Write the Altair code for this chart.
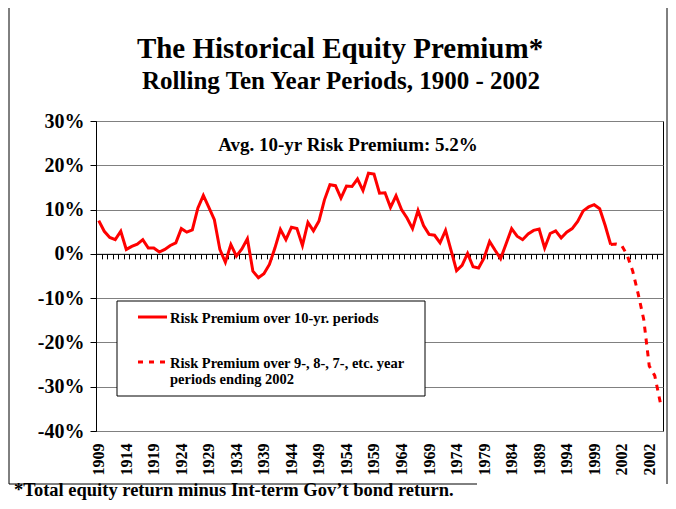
import json
import pandas as pd
import altair as alt

FONT = "Liberation Serif"
RED = "#FF0000"

# ---------------- data ----------------
# 10-year rolling equity risk premium (%), periods ending 1909 ... 2002
years_10yr = list(range(1909, 2003))
premium_10yr = [
    7.5, 5.1, 3.7, 3.2, 5.1, 1.0, 1.7, 2.2, 3.2, 1.3,
    1.3, 0.4, 1.0, 1.9, 2.5, 5.7, 4.9, 5.4, 10.3, 13.2,
    10.5, 7.7, 1.0, -1.9, 2.1, -0.5, 1.1, 3.4, -3.9, -5.4,
    -4.5, -2.4, 1.3, 5.5, 3.2, 6.0, 5.7, 1.9, 7.1, 5.2,
    7.4, 12.2, 15.6, 15.4, 12.6, 15.3, 15.2, 16.9, 14.3, 18.2,
    18.0, 13.7, 13.8, 10.5, 13.1, 10.0, 8.1, 5.7, 9.8, 6.4,
    4.4, 4.2, 2.5, 5.3, 0.8, -3.8, -2.6, 0.1, -2.9, -3.2,
    -0.9, 2.8, 0.8, -1.1, 2.3, 5.7, 4.0, 3.2, 4.5, 5.3,
    5.6, 1.3, 4.6, 5.2, 3.6, 4.9, 5.7, 7.3, 9.7, 10.6,
    11.1, 10.2, 6.4, 2.1,
]
# 9-, 8-, 7-, ... 1-year periods ending 2002 (%)
short_labels = ["2002"] * 9
premium_short = [2.2, 1.9, -0.3, -3.9, -9.1, -14.8, -25.3, -27.5, -33.5]

categories = [str(y) for y in years_10yr] + short_labels
label_every = 5

y_ticks = [-0.4, -0.3, -0.2, -0.1, 0.0, 0.1, 0.2, 0.3]

title_text = "The Historical Equity Premium*"
subtitle_text = "Rolling Ten Year Periods, 1900 - 2002"
note_text = "Avg. 10-yr Risk Premium: 5.2%"
legend_1 = "Risk Premium over 10-yr. periods"
legend_2a = "Risk Premium over 9-, 8-, 7-, etc. year"
legend_2b = "periods ending 2002"
footnote_text = "*Total equity return minus Int-term Gov\u2019t bond return."

# ---------------- tables ----------------
n10 = len(premium_10yr)
df_solid = pd.DataFrame({"idx": list(range(n10)), "v": [p / 100 for p in premium_10yr]})
df_dash = pd.DataFrame({
    "idx": list(range(n10 - 1, n10 + len(premium_short))),
    "v": [premium_10yr[-1] / 100] + [p / 100 for p in premium_short],
})

W, H = 567, 310
ncat = len(categories)
xscale = alt.Scale(domain=[-0.5, ncat - 0.5], nice=False, zero=False)
yscale = alt.Scale(domain=[-0.4, 0.3], nice=False, zero=False)
zero_offset = -(H * 0.4 / 0.7)

label_axis = alt.Axis(
    orient="bottom", values=list(range(0, ncat, label_every)),
    labelExpr=f"{json.dumps(categories)}[datum.value]",
    labelAngle=270, labelFont=FONT, labelFontWeight="bold", labelFontSize=16,
    labelColor="black", labelPadding=12, ticks=False, domain=False, grid=False,
    title=None, labelOverlap=False,
)
tick_axis = alt.Axis(
    orient="bottom", values=[i - 0.5 for i in range(ncat + 1)], labels=False,
    ticks=True, tickSize=5, tickColor="black", tickWidth=1, domain=True,
    domainColor="black", domainWidth=1, grid=False, title=None, offset=zero_offset,
)
y_axis = alt.Axis(
    values=y_ticks,
    labelExpr="datum.value < 0 ? '-' + format(-datum.value, '.0%') : format(datum.value, '.0%')",
    labelFont=FONT, labelFontWeight="bold", labelFontSize=20, labelColor="black",
    labelPadding=6, tickSize=6, tickColor="black", domainColor="black",
    grid=True, gridColor="#808080", gridWidth=1, title=None,
)

solid = alt.Chart(df_solid).mark_line(color=RED, strokeWidth=3).encode(
    x=alt.X("idx:Q", scale=xscale, axis=label_axis),
    y=alt.Y("v:Q", scale=yscale, axis=y_axis),
)
dashed = alt.Chart(df_dash).mark_line(color=RED, strokeWidth=3, strokeDash=[6, 6]).encode(
    x=alt.X("idx:Q", scale=xscale, axis=tick_axis),
    y=alt.Y("v:Q", scale=yscale, axis=y_axis),
)

one = pd.DataFrame({"a": [0]})


def text_layer(s, x, y, size, align="center"):
    return alt.Chart(pd.DataFrame({"t": [s]})).mark_text(
        font=FONT, fontWeight="bold", fontSize=size, align=align,
        baseline="alphabetic", color="black",
    ).encode(text="t:N", x=alt.value(x), y=alt.value(y))


legend_box = alt.Chart(one).mark_rect(fill="white", stroke="black", strokeWidth=1).encode(
    x=alt.value(21), x2=alt.value(329), y=alt.value(180), y2=alt.value(275)
)
leg_solid = alt.Chart(one).mark_rule(color=RED, strokeWidth=3).encode(
    x=alt.value(42), x2=alt.value(71), y=alt.value(196)
)
leg_dash = alt.Chart(one).mark_rule(color=RED, strokeWidth=3, strokeDash=[5, 6]).encode(
    x=alt.value(42), x2=alt.value(72), y=alt.value(241)
)

frame_left = alt.Chart(one).mark_rule(color="black", strokeWidth=1).encode(
    x=alt.value(-87), y=alt.value(-113), y2=alt.value(363)
)
frame_right = alt.Chart(one).mark_rule(color="black", strokeWidth=1).encode(
    x=alt.value(571), y=alt.value(-113), y2=alt.value(363)
)
frame_bottom = alt.Chart(one).mark_rule(color="black", strokeWidth=1).encode(
    x=alt.value(-87), x2=alt.value(381), y=alt.value(363)
)

chart = alt.layer(
    legend_box,
    solid,
    dashed,
    leg_solid,
    leg_dash,
    text_layer(legend_1, 74, 202, 14.5, "left"),
    text_layer(legend_2a, 74, 247, 14.5, "left"),
    text_layer(legend_2b, 74, 263, 14.5, "left"),
    text_layer(note_text, 252, 30, 19),
    text_layer(title_text, 244, -63, 29),
    text_layer(subtitle_text, 245, -32, 25),
    text_layer(footnote_text, -82, 375, 18.5, "left"),
    frame_left,
    frame_right,
    frame_bottom,
).resolve_axis(x="independent").properties(
    width=W, height=H,
    padding={"left": 88, "top": 113, "right": 5, "bottom": 70},
    autosize=alt.AutoSizeParams(type="none"),
    background="white",
).configure_view(stroke="black", strokeWidth=1)

chart.save("out.html", embed_options={"renderer": "svg", "actions": False})
